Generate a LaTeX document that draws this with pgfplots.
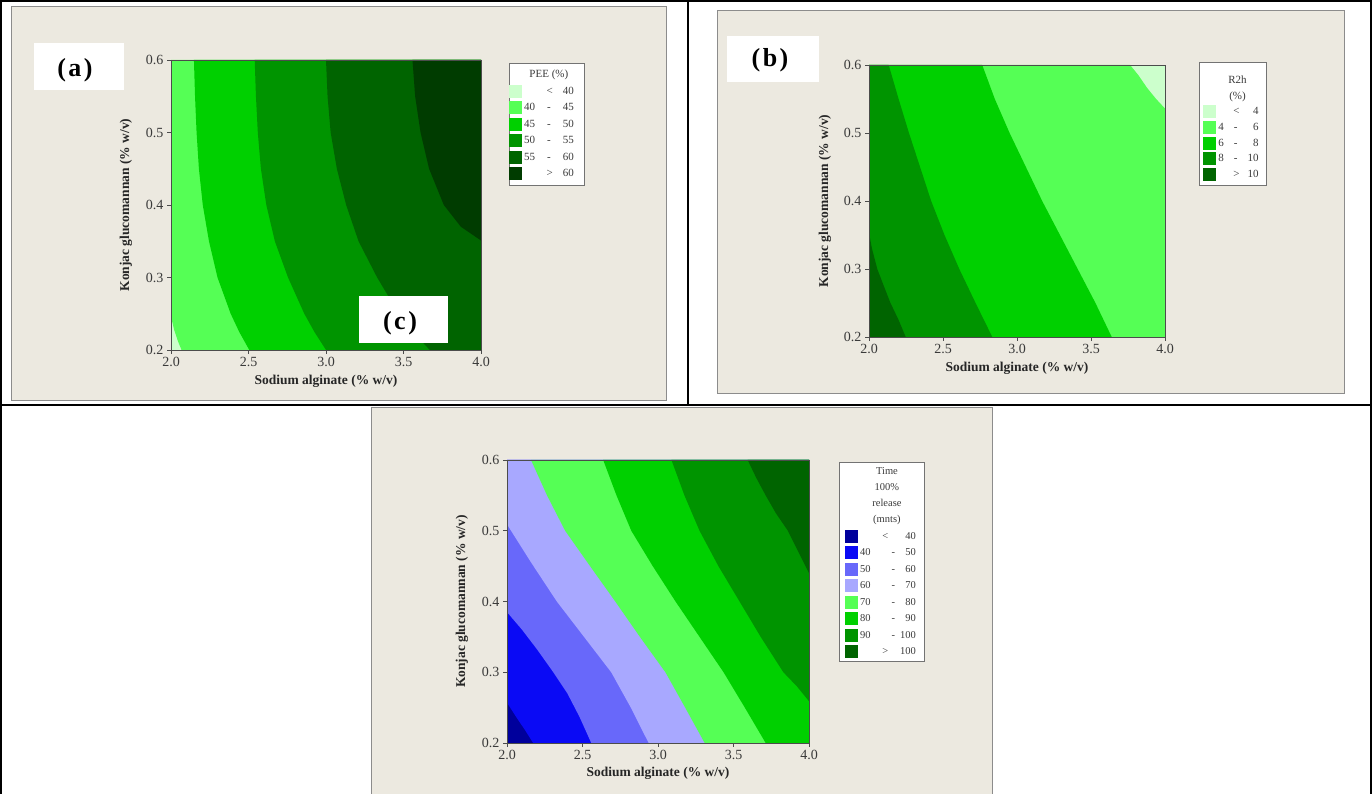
\documentclass[border=0pt]{standalone}
\usepackage{fontspec}
\setmainfont{Liberation Serif}
\usepackage{pgfplots}
\pgfplotsset{compat=1.18}

\definecolor{beige}{HTML}{ECE9E0}
\definecolor{ga}{HTML}{CCFFCC}
\definecolor{gb}{HTML}{55FF55}
\definecolor{gc}{HTML}{00D000}
\definecolor{gd}{HTML}{009400}
\definecolor{ge}{HTML}{006400}
\definecolor{gf}{HTML}{003C00}
\definecolor{ba}{HTML}{00009C}
\definecolor{bb}{HTML}{0A0AF5}
\definecolor{bc}{HTML}{6868FA}
\definecolor{bd}{HTML}{A8A8FF}
\definecolor{tickc}{HTML}{3A3A3A}

\pgfplotsset{
  contour/.style={
    scale only axis,
    xmin=2, xmax=4, ymin=0.2, ymax=0.6,
    axis on top,
    xtick={2,2.5,3,3.5,4}, ytick={0.2,0.3,0.4,0.5,0.6},
    tick align=outside, tick pos=left, major tick length=4pt,
    /pgf/number format/assume math mode=true,
    xticklabel style={/pgf/number format/fixed,/pgf/number format/fixed zerofill,/pgf/number format/precision=1},
    yticklabel style={/pgf/number format/fixed,/pgf/number format/fixed zerofill,/pgf/number format/precision=1},
    tick label style={font=\fontsize{14}{14}\selectfont, text=tickc},
    axis line style={black!70, line width=0.6pt},
    every tick/.style={black!70, line width=0.6pt},
    xlabel={Sodium alginate (\% w/v)},
    ylabel={Konjac glucomannan (\% w/v)},
    label style={font=\bfseries\fontsize{13.5}{14}\selectfont, text=black!85},
    legend cell align=right,
    legend style={draw=black!55, fill=white, line width=0.6pt,
      font=\fontsize{11}{12}\selectfont, text=tickc, anchor=north west,
      row sep=3.5pt, inner ysep=3pt},
    legend image code/.code={\fill[#1] (0pt,-6.5pt) rectangle (13pt,6.5pt);},
  }
}

\begin{document}
\begin{tikzpicture}
\useasboundingbox (0,0) rectangle (1372pt,794pt);
\fill[white] (0,0) rectangle (1372pt,794pt);
% panels
\filldraw[fill=beige, draw=black!45, line width=0.8pt] (11pt,394pt) rectangle (666pt,788pt);
\filldraw[fill=beige, draw=black!45, line width=0.8pt] (717pt,401pt) rectangle (1344pt,784pt);
\filldraw[fill=beige, draw=black!45, line width=0.8pt] (371pt,-2pt) rectangle (992pt,387pt);
% table lines
\draw[line width=2.5pt] (1.2pt,0) -- (1.2pt,794pt);
\draw[line width=2.5pt] (0,792.8pt) -- (1372pt,792.8pt);
\draw[line width=2.5pt] (1370.8pt,0) -- (1370.8pt,794pt);
\draw[line width=2.5pt] (0,389pt) -- (1372pt,389pt);
\draw[line width=2.5pt] (688pt,389pt) -- (688pt,794pt);

% ---------------- panel (a)
\begin{axis}[contour, at={(171pt,444pt)}, anchor=south west, width=310pt, height=290pt,
  xlabel style={at={(axis description cs:0.5,-0.107)}, anchor=center},
  ylabel style={at={(axis description cs:-0.145,0.5)}, anchor=center},
  legend style={at={(axis description cs:1.09,0.99)}, inner xsep=0pt, inner ysep=5pt}]
\addlegendimage{empty legend}
\addplot[draw=none, fill=ga] coordinates {(2,0.2) (4,0.2) (4,0.6) (2,0.6)} -- cycle;
\addplot[draw=none, fill=gb] coordinates {(2.0,0.246) (2.02,0.228) (2.045,0.212) (2.068,0.2) (4,0.2) (4,0.6) (2,0.6)} -- cycle;
\addplot[draw=none, fill=gc] coordinates {(2.148,0.6) (2.155,0.55) (2.165,0.5) (2.18,0.45) (2.205,0.4) (2.245,0.35) (2.30,0.3) (2.385,0.25) (2.44,0.225) (2.505,0.2) (4,0.2) (4,0.6)} -- cycle;
\addplot[draw=none, fill=gd] coordinates {(2.54,0.6) (2.548,0.55) (2.56,0.5) (2.58,0.45) (2.615,0.4) (2.67,0.35) (2.755,0.3) (2.86,0.25) (2.925,0.225) (3.0,0.2) (4,0.2) (4,0.6)} -- cycle;
\addplot[draw=none, fill=ge] coordinates {(3.0,0.6) (3.01,0.55) (3.03,0.5) (3.07,0.45) (3.13,0.4) (3.21,0.35) (3.33,0.3) (3.47,0.25) (3.56,0.225) (3.67,0.2) (4,0.2) (4,0.6)} -- cycle;
\addplot[draw=none, fill=gf] coordinates {(3.558,0.6) (3.575,0.55) (3.61,0.5) (3.665,0.45) (3.76,0.4) (3.87,0.37) (4.0,0.351) (4,0.6)} -- cycle;
\legend{\makebox[0pt]{PEE (\%)}\hspace*{33pt},
  <\hspace{10pt}40\hspace*{8pt},
  40\hspace{12pt}-\hspace{12pt}45\hspace*{8pt},
  45\hspace{12pt}-\hspace{12pt}50\hspace*{8pt},
  50\hspace{12pt}-\hspace{12pt}55\hspace*{8pt},
  55\hspace{12pt}-\hspace{12pt}60\hspace*{8pt},
  >\hspace{10pt}60\hspace*{8pt}}
\end{axis}

% ---------------- panel (b)
\begin{axis}[contour, at={(869pt,457pt)}, anchor=south west, width=296pt, height=272pt,
  xlabel style={at={(axis description cs:0.5,-0.114)}, anchor=center},
  ylabel style={at={(axis description cs:-0.149,0.5)}, anchor=center},
  legend style={at={(axis description cs:1.115,1.011)}, inner xsep=4pt, inner ysep=4pt, row sep=2.7pt}]
\addlegendimage{empty legend}
\addlegendimage{empty legend}
\addplot[draw=none, fill=ga] coordinates {(2,0.2) (4,0.2) (4,0.6) (2,0.6)} -- cycle;
\addplot[draw=none, fill=gb] coordinates {(3.764,0.6) (3.82,0.585) (3.88,0.566) (3.94,0.55) (4.0,0.536) (4,0.2) (2,0.2) (2,0.6)} -- cycle;
\addplot[draw=none, fill=gc] coordinates {(2.765,0.6) (2.85,0.55) (2.95,0.5) (3.06,0.45) (3.17,0.4) (3.29,0.35) (3.41,0.3) (3.53,0.25) (3.64,0.2) (2,0.2) (2,0.6)} -- cycle;
\addplot[draw=none, fill=gd] coordinates {(2.133,0.6) (2.2,0.55) (2.27,0.5) (2.345,0.45) (2.42,0.4) (2.51,0.35) (2.61,0.3) (2.72,0.25) (2.833,0.2) (2,0.2) (2,0.6)} -- cycle;
\addplot[draw=none, fill=ge] coordinates {(2.0,0.353) (2.02,0.33) (2.056,0.3) (2.1,0.275) (2.145,0.25) (2.2,0.225) (2.248,0.2) (2,0.2)} -- cycle;
\legend{\rule{0pt}{15pt}\makebox[0pt]{R2h}\hspace*{23pt},
  \makebox[0pt]{(\%)}\hspace*{23pt},
  <\hspace{8pt}\hphantom{1}4\hspace*{2pt},
  4\hspace{10pt}-\hspace{10pt}\hphantom{1}6\hspace*{2pt},
  6\hspace{10pt}-\hspace{10pt}\hphantom{1}8\hspace*{2pt},
  8\hspace{10pt}-\hspace{10pt}10\hspace*{2pt},
  >\hspace{8pt}10\hspace*{2pt}}
\end{axis}

% ---------------- panel (c)
\begin{axis}[contour, at={(507pt,51pt)}, anchor=south west, width=302pt, height=283pt,
  xlabel style={at={(axis description cs:0.5,-0.106)}, anchor=center},
  ylabel style={at={(axis description cs:-0.149,0.5)}, anchor=center},
  legend style={at={(axis description cs:1.099,0.993)}, inner xsep=6pt, font=\fontsize{10.5}{12}\selectfont}]
\addlegendimage{empty legend}
\addlegendimage{empty legend}
\addlegendimage{empty legend}
\addlegendimage{empty legend}
\addplot[draw=none, fill=ba] coordinates {(2,0.2) (4,0.2) (4,0.6) (2,0.6)} -- cycle;
\addplot[draw=none, fill=bb] coordinates {(2.0,0.257) (2.06,0.237) (2.12,0.218) (2.173,0.2) (4,0.2) (4,0.6) (2,0.6)} -- cycle;
\addplot[draw=none, fill=bc] coordinates {(2.0,0.385) (2.1,0.36) (2.2,0.332) (2.3,0.302) (2.4,0.27) (2.48,0.237) (2.558,0.2) (4,0.2) (4,0.6) (2,0.6)} -- cycle;
\addplot[draw=none, fill=bd] coordinates {(2.0,0.509) (2.16,0.455) (2.33,0.4) (2.51,0.35) (2.69,0.3) (2.82,0.25) (2.938,0.2) (4,0.2) (4,0.6) (2,0.6)} -- cycle;
\addplot[draw=none, fill=gb] coordinates {(2.159,0.6) (2.265,0.55) (2.385,0.5) (2.55,0.45) (2.717,0.4) (2.88,0.35) (3.049,0.3) (3.18,0.25) (3.309,0.2) (4,0.2) (4,0.6)} -- cycle;
\addplot[draw=none, fill=gc] coordinates {(2.637,0.6) (2.725,0.55) (2.823,0.5) (2.965,0.45) (3.116,0.4) (3.275,0.35) (3.434,0.3) (3.575,0.25) (3.713,0.2) (4,0.2) (4,0.6)} -- cycle;
\addplot[draw=none, fill=gd] coordinates {(3.089,0.6) (3.175,0.55) (3.275,0.5) (3.4,0.45) (3.54,0.4) (3.68,0.35) (3.83,0.3) (3.92,0.28) (4.0,0.259) (4,0.6)} -- cycle;
\addplot[draw=none, fill=ge] coordinates {(3.594,0.6) (3.65,0.575) (3.713,0.55) (3.78,0.525) (3.86,0.5) (3.93,0.47) (4.0,0.44) (4,0.6)} -- cycle;
\legend{\makebox[0pt]{Time}\hspace*{29pt},
  \makebox[0pt]{100\%}\hspace*{29pt},
  \makebox[0pt]{release}\hspace*{29pt},
  \makebox[0pt]{(mnts)}\hspace*{29pt},
  <\hspace{12pt}\hphantom{1}40,
  40\hspace{21pt}-\hspace{5pt}\hphantom{1}50,
  50\hspace{21pt}-\hspace{5pt}\hphantom{1}60,
  60\hspace{21pt}-\hspace{5pt}\hphantom{1}70,
  70\hspace{21pt}-\hspace{5pt}\hphantom{1}80,
  80\hspace{21pt}-\hspace{5pt}\hphantom{1}90,
  90\hspace{21pt}-\hspace{5pt}100,
  >\hspace{12pt}100}
\end{axis}

% panel tags
\fill[white] (34pt,704pt) rectangle (124pt,751pt);
\node[font=\bfseries\fontsize{26}{26}\selectfont] at (75pt,724pt) {(\kern2.5pt a\kern2.5pt)};
\fill[white] (727pt,712pt) rectangle (819pt,758pt);
\node[font=\bfseries\fontsize{26}{26}\selectfont] at (770pt,734pt) {(\kern2.5pt b\kern2.5pt)};
\fill[white] (359pt,451pt) rectangle (448pt,498pt);
\node[font=\bfseries\fontsize{26}{26}\selectfont] at (400pt,470.5pt) {(\kern2.5pt c\kern2.5pt)};
\end{tikzpicture}
\end{document}
